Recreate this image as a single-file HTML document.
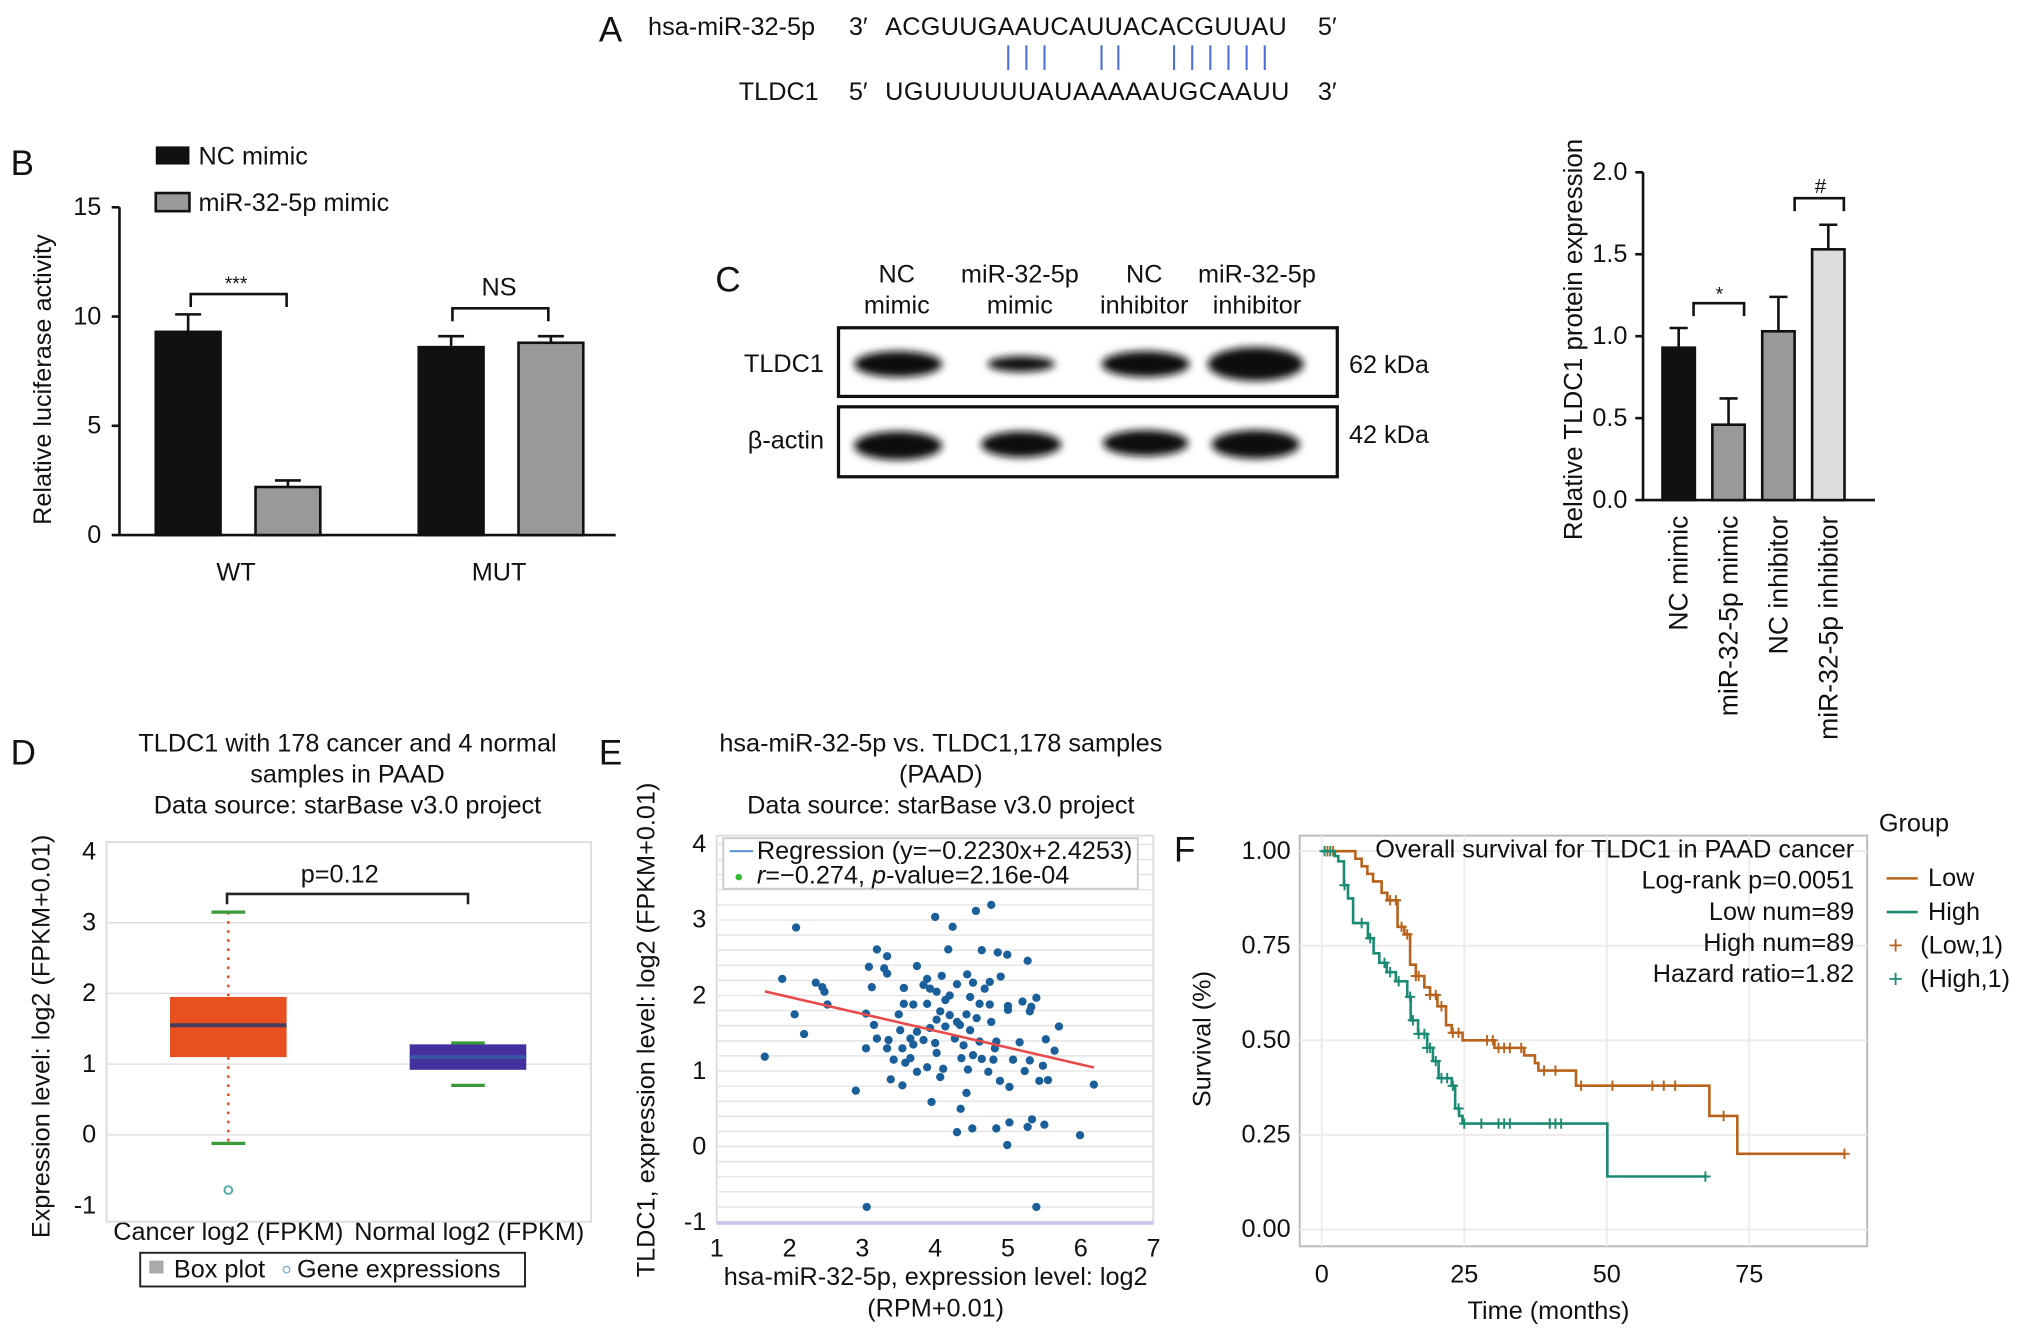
<!DOCTYPE html>
<html><head><meta charset="utf-8"><style>
html,body{margin:0;padding:0;background:#fff}
svg{display:block;font-family:"Liberation Sans",Arial,sans-serif}
</style></head><body>
<svg id="fig" width="2032" height="1337" viewBox="0 0 1568 1032" xmlns="http://www.w3.org/2000/svg">
<defs><filter id="blur" x="-30%" y="-60%" width="160%" height="220%"><feGaussianBlur stdDeviation="3"/></filter></defs>
<rect width="1568" height="1032" fill="#fff"/>

<!-- Panel A -->
<g font-size="19.5" fill="#111">
<text x="462" y="32" font-size="27">A</text>
<text x="500" y="27">hsa-miR-32-5p</text>
<text x="655" y="27">3′</text>
<text x="683" y="27" textLength="310">ACGUUGAAUCAUUACACGUUAU</text>
<text x="1017" y="27">5′</text>
<text x="570" y="77">TLDC1</text>
<text x="655" y="77">5′</text>
<text x="683" y="77" textLength="312">UGUUUUUUAUAAAAAUGCAAUU</text>
<text x="1017" y="77">3′</text>
<g stroke="#4a6fd6" stroke-width="1.6">
<line x1="778" y1="35" x2="778" y2="54"/><line x1="792" y1="35" x2="792" y2="54"/><line x1="806" y1="35" x2="806" y2="54"/>
<line x1="850" y1="35" x2="850" y2="54"/><line x1="863" y1="35" x2="863" y2="54"/>
<line x1="906" y1="35" x2="906" y2="54"/><line x1="920" y1="35" x2="920" y2="54"/><line x1="934" y1="35" x2="934" y2="54"/><line x1="948" y1="35" x2="948" y2="54"/><line x1="962" y1="35" x2="962" y2="54"/><line x1="976" y1="35" x2="976" y2="54"/>
</g>
</g>

<!-- Panel B -->
<g id="panelB" font-size="19.5" fill="#111">
<text x="8" y="135" font-size="27">B</text>
<rect x="120" y="113" width="26" height="14" fill="#111"/>
<text x="153" y="127">NC mimic</text>
<rect x="120" y="149" width="26" height="14" fill="#999" stroke="#111" stroke-width="2"/>
<text x="153" y="163">miR-32-5p mimic</text>
<text transform="translate(39,293) rotate(-90)" text-anchor="middle">Relative luciferase activity</text>
</g>

<!-- Panel C -->
<g font-size="19.5" fill="#111">
<text x="552" y="225" font-size="27">C</text>
<g text-anchor="middle">
<text x="692" y="218">NC</text><text x="692" y="242">mimic</text>
<text x="787" y="218">miR-32-5p</text><text x="787" y="242">mimic</text>
<text x="883" y="218">NC</text><text x="883" y="242">inhibitor</text>
<text x="970" y="218">miR-32-5p</text><text x="970" y="242">inhibitor</text>
</g>
<text x="574" y="287">TLDC1</text>
<text x="577" y="346">β-actin</text>
<text x="1041" y="288">62 kDa</text>
<text x="1041" y="342">42 kDa</text>
<rect x="647" y="253" width="385" height="53" fill="#fff" stroke="#111" stroke-width="2.5"/>
<rect x="647" y="314" width="385" height="54" fill="#fff" stroke="#111" stroke-width="2.5"/>
<g fill="#111" filter="url(#blur)">
<ellipse cx="693" cy="281" rx="34" ry="10"/><ellipse cx="788" cy="281" rx="26" ry="6"/><ellipse cx="884" cy="281" rx="34" ry="10"/><ellipse cx="969" cy="281" rx="37" ry="13"/>
<ellipse cx="693" cy="344" rx="34" ry="11"/><ellipse cx="788" cy="343" rx="31" ry="10"/><ellipse cx="884" cy="342" rx="33" ry="10"/><ellipse cx="969" cy="343" rx="34" ry="11"/>
</g>
<g id="panelC2"></g>
<text transform="translate(1221,262) rotate(-90)" text-anchor="middle" font-size="20">Relative TLDC1 protein expression</text>
</g>

<!-- Panel D -->
<g id="panelD" font-size="19.5" fill="#111">
<text x="8" y="590" font-size="27">D</text>
<g text-anchor="middle">
<text x="268" y="580">TLDC1 with 178 cancer and 4 normal</text>
<text x="268" y="604">samples in PAAD</text>
<text x="268" y="628">Data source: starBase v3.0 project</text>
</g>
<text transform="translate(38,800) rotate(-90)" text-anchor="middle">Expression level: log2 (FPKM+0.01)</text>
<text x="176" y="957" text-anchor="middle">Cancer log2 (FPKM)</text>
<text x="362" y="957" text-anchor="middle">Normal log2 (FPKM)</text>
<rect x="108" y="967" width="297" height="26" fill="#fff" stroke="#222" stroke-width="1.5"/>
<rect x="115" y="973" width="11" height="10" fill="#aaa"/>
<text x="134" y="986">Box plot</text>
<circle cx="221" cy="980" r="2.5" fill="none" stroke="#7ac"/>
<text x="229" y="986">Gene expressions</text>
</g>

<!-- Panel E -->
<g id="panelE" font-size="19.5" fill="#111">
<text x="462" y="590" font-size="27">E</text>
<g text-anchor="middle">
<text x="726" y="580">hsa-miR-32-5p vs. TLDC1,178 samples</text>
<text x="726" y="604">(PAAD)</text>
<text x="726" y="628">Data source: starBase v3.0 project</text>
</g>
<text transform="translate(505,795) rotate(-90)" text-anchor="middle">TLDC1, expression level: log2 (FPKM+0.01)</text>
<text x="722" y="992" text-anchor="middle">hsa-miR-32-5p, expression level: log2</text>
<text x="722" y="1016" text-anchor="middle">(RPM+0.01)</text>
</g>

<!-- Panel F -->
<g id="panelF" font-size="19.5" fill="#111">
<text x="906" y="665" font-size="27">F</text>
<text transform="translate(934,802) rotate(-90)" text-anchor="middle">Survival (%)</text>
<text x="1195" y="1018" text-anchor="middle">Time (months)</text>
<text x="1450" y="642">Group</text>
<line x1="1456" y1="678" x2="1480" y2="678" stroke="#b8621b" stroke-width="2"/>
<text x="1488" y="684">Low</text>
<line x1="1456" y1="704" x2="1480" y2="704" stroke="#1a8a73" stroke-width="2"/>
<text x="1488" y="710">High</text>
<text x="1463" y="736" fill="#b8621b" text-anchor="middle">+</text>
<text x="1482" y="736">(Low,1)</text>
<text x="1463" y="762" fill="#1a8a73" text-anchor="middle">+</text>
<text x="1482" y="762">(High,1)</text>
</g>
</svg>

<script>
// ---- Panel B data ----
const bCategories = ["WT","MUT"];
const bNcValues = [9.3, 8.6];
const bMirValues = [2.2, 8.8];
const bNcErr = [0.8, 0.5];
const bMirErr = [0.3, 0.3];
const bTicks = [0,5,10,15];
// ---- Panel C bar data ----
const cCategories = ["NC mimic","miR-32-5p mimic","NC inhibitor","miR-32-5p inhibitor"];
const cValues = [0.93, 0.46, 1.03, 1.53];
const cErr = [0.12, 0.16, 0.21, 0.15];
const cTicks = [0.0,0.5,1.0,1.5,2.0];
// ---- Panel D data ----
const dGroups = ["Cancer","Normal"];
const dQ1 = [1.1, 0.92];
const dMedian = [1.55, 1.1];
const dQ3 = [1.95, 1.28];
const dWhiskerLow = [-0.12, 0.7];
const dWhiskerHigh = [3.15, 1.3];
const dOutliers = [-0.78];
const dTicks = [-1,0,1,2,3,4];
// ---- Panel E data ----
const eX = [4.77,4.56,4.00,4.24,2.09,3.20,4.18,4.64,4.86,4.99,3.34,5.27,3.09,3.30,3.34,3.75,1.90,4.09,4.44,4.90,2.36,3.89,3.84,4.30,4.52,4.75,2.45,2.48,3.13,3.57,3.93,4.02,4.20,4.48,4.68,5.39,5.20,2.52,3.57,3.70,3.89,4.14,4.61,4.75,5.00,5.32,2.07,3.05,3.50,4.07,4.20,4.43,5.00,5.30,4.02,4.30,4.57,4.77,3.16,3.52,3.75,3.93,4.14,4.34,4.48,5.70,2.20,3.20,3.36,3.66,3.84,4.27,4.61,4.84,5.16,5.52,3.05,3.34,3.55,3.70,4.00,4.39,4.82,5.64,1.66,3.43,3.66,4.02,4.36,4.52,4.64,4.80,5.07,5.30,3.59,3.89,4.11,4.45,4.73,5.23,5.48,3.75,4.07,4.89,3.39,3.55,5.02,5.43,5.55,6.18,2.91,4.43,3.95,4.35,4.30,4.51,4.84,5.02,5.33,5.27,5.50,4.99,5.99,3.06,5.39];
const eY = [3.20,3.12,3.04,2.91,2.90,2.61,2.61,2.60,2.57,2.54,2.52,2.46,2.38,2.36,2.29,2.39,2.22,2.26,2.28,2.25,2.17,2.22,2.14,2.15,2.17,2.18,2.11,2.05,2.11,2.10,2.09,2.05,2.00,1.98,2.09,1.97,1.92,1.88,1.89,1.88,1.89,1.94,1.89,1.88,1.86,1.85,1.75,1.76,1.75,1.79,1.74,1.75,1.81,1.79,1.68,1.65,1.70,1.65,1.61,1.54,1.52,1.57,1.59,1.61,1.54,1.59,1.49,1.43,1.41,1.43,1.41,1.43,1.39,1.39,1.38,1.42,1.30,1.30,1.30,1.35,1.37,1.34,1.30,1.27,1.19,1.15,1.17,1.24,1.17,1.21,1.16,1.15,1.15,1.14,1.11,1.05,1.03,1.02,0.99,1.00,1.07,0.99,0.92,0.87,0.89,0.81,0.79,0.87,0.88,0.82,0.74,0.71,0.59,0.50,0.19,0.24,0.24,0.32,0.36,0.26,0.29,0.02,0.15,-0.80,-0.80];
const eSlope = -0.2230;
const eIntercept = 2.4253;
const eXTicks = [1,2,3,4,5,6,7];
const eYTicks = [-1,0,1,2,3,4];
// ---- Panel F data ----
const lowTime = [0,5.9,7,8,9,10.5,11.5,13.3,14.5,15.5,16.5,18,19,20.3,21.8,22.8,24.7,30.3,35.5,37.4,38,44.6,68,72.9];
const lowSurv = [1,0.98,0.96,0.94,0.92,0.89,0.87,0.80,0.78,0.70,0.67,0.64,0.62,0.59,0.54,0.52,0.50,0.48,0.46,0.44,0.42,0.38,0.30,0.20];
const lowEnd = 91.7;
const lowCensor = [1,2,12,13,14,15,16.5,17,19,20,21,23,24,29,30,31,32,33,35,39,41,45.5,51,58,60,62,70.5,91.7];
const highTime = [0,2.3,2.9,3.9,4.6,5.5,8.1,9.1,10.1,11.4,13,15,15.6,16.9,18.5,19.5,20.5,22.8,23.4,24.1,24.7,50.1];
const highSurv = [1,0.987,0.973,0.91,0.875,0.81,0.77,0.73,0.705,0.68,0.656,0.615,0.553,0.517,0.48,0.445,0.40,0.38,0.32,0.30,0.28,0.14];
const highEnd = 67.3;
const highCensor = [0.5,1.5,4,7,8.5,11,12,13.5,15.5,16,17,18,18.5,19,20,21,22,23,24,25,28,31,32,33,40,41,42,67.3];
const fXTicks = [0,25,50,75];
const fYTicks = [0,0.25,0.5,0.75,1];

const NS="http://www.w3.org/2000/svg";
function mk(parent, tag, attrs, text){const e=document.createElementNS(NS,tag);for(const k in attrs)e.setAttribute(k,attrs[k]);if(text!==undefined)e.textContent=text;parent.appendChild(e);return e;}

// ===== Panel B =====
(function(){
const g=document.getElementById('panelB');
const yB=v=>413-v*(253/15);
let ax=mk(g,'path',{d:'M92 160 V413 H475',fill:'none',stroke:'#111','stroke-width':2});


bTicks.forEach(t=>{
 let l=mk(g,'line',{x1:86,x2:92,y1:yB(t),y2:yB(t),stroke:'#111','stroke-width':2});
 
 
 let tx=mk(g,'text',{x:78,y:yB(t)+6,'text-anchor':'end'},String(t));
 
 
});
const groupX=[120,323];
bCategories.forEach((c,i)=>{
 const x0=groupX[i];
 const bars=[[x0,bNcValues[i],bNcErr[i],'#111'],[x0+77,bMirValues[i],bMirErr[i],'#999']];
 bars.forEach((b,j)=>{
  let r=mk(g,'rect',{x:b[0],y:yB(b[1]),width:50,height:413-yB(b[1]),fill:b[3],stroke:'#111','stroke-width':2});
  
  
  const cx=b[0]+25;
  let e=mk(g,'path',{d:`M${cx} ${yB(b[1])} V${yB(b[1]+b[2])} M${cx-10} ${yB(b[1]+b[2])} H${cx+10}`,stroke:'#111','stroke-width':2,fill:'none'});
  
  
 });
 let lt=mk(g,'text',{x:x0+62,y:448,'text-anchor':'middle'},c);
 
 
});
let s1=mk(g,'path',{d:'M147 237 V227 H221 V237',fill:'none',stroke:'#111','stroke-width':2});


let s1t=mk(g,'text',{x:182,y:224,'text-anchor':'middle','font-size':15},'***');


let s2=mk(g,'path',{d:'M349 248 V238 H423 V248',fill:'none',stroke:'#111','stroke-width':2});


let s2t=mk(g,'text',{x:385,y:228,'text-anchor':'middle'},'NS');


})();

// ===== Panel C bar chart =====
(function(){
const g=document.getElementById('panelC2');
const yC=v=>386-v*(253/2);
let ax=mk(g,'path',{d:'M1268 133 V386 H1447',fill:'none',stroke:'#111','stroke-width':2});


cTicks.forEach(t=>{
 let l=mk(g,'line',{x1:1262,x2:1268,y1:yC(t),y2:yC(t),stroke:'#111','stroke-width':2});
 
 
 let tx=mk(g,'text',{x:1256,y:yC(t)+6,'text-anchor':'end','font-size':19.5},t.toFixed(1));
 
 
});
const fills=['#111','#999','#999','#ddd'];
cCategories.forEach((c,i)=>{
 const x=1295+i*38.5-12;
 let r=mk(g,'rect',{x:x,y:yC(cValues[i]),width:25,height:386-yC(cValues[i]),fill:fills[i],stroke:'#111','stroke-width':2});
 
 
 const cx=x+12.5, top=yC(cValues[i]+cErr[i]);
 let e=mk(g,'path',{d:`M${cx} ${yC(cValues[i])} V${top} M${cx-7} ${top} H${cx+7}`,stroke:'#111','stroke-width':2,fill:'none'});
 
 
 let tx=mk(g,'text',{transform:`translate(${cx+7},398) rotate(-90)`,'text-anchor':'end','font-size':20.5},c);
 
 
});
let s1=mk(g,'path',{d:'M1307 244 V234 H1346 V244',fill:'none',stroke:'#111','stroke-width':2});


let s1t=mk(g,'text',{x:1327,y:232,'text-anchor':'middle','font-size':15},'*');


let s2=mk(g,'path',{d:'M1385 163 V153 H1423 V163',fill:'none',stroke:'#111','stroke-width':2});


let s2t=mk(g,'text',{x:1405,y:149,'text-anchor':'middle','font-size':16},'#');


})();

// ===== Panel D =====
(function(){
const g=document.getElementById('panelD');
const yD=v=>876-v*54.6;
let fr=mk(g,'rect',{x:82,y:650,width:374,height:293,fill:'#fff',stroke:'#ddd','stroke-width':1.5});


dTicks.forEach(t=>{
 if(t>-1&&t<4){let l=mk(g,'line',{x1:82,x2:456,y1:yD(t),y2:yD(t),stroke:'#ddd','stroke-width':1});
 
 }
 let tx=mk(g,'text',{x:74,y:yD(t)+6,'text-anchor':'end'},String(t));
 
 
});
const cxs=[176,361], cols=['#e8501f','#4530a0'];
dGroups.forEach((gr,i)=>{
 const cx=cxs[i];
 if(i===0){
  let w=mk(g,'line',{x1:cx,x2:cx,y1:yD(dWhiskerHigh[i]),y2:yD(dWhiskerLow[i]),stroke:'#e8501f','stroke-width':2,'stroke-dasharray':'2 5'});
  
  
 }
 let b=mk(g,'rect',{x:cx-45,y:yD(dQ3[i]),width:90,height:yD(dQ1[i])-yD(dQ3[i]),fill:cols[i]});
 
 
 let m=mk(g,'line',{x1:cx-45,x2:cx+45,y1:yD(dMedian[i]),y2:yD(dMedian[i]),stroke:i===0?'#4a3a5a':'#3a55a0','stroke-width':3});
 
 
 [dWhiskerHigh[i],dWhiskerLow[i]].forEach(v=>{
  let c=mk(g,'line',{x1:cx-13,x2:cx+13,y1:yD(v),y2:yD(v),stroke:'#3a9a3a','stroke-width':2.5});
  
  
 });
});
dOutliers.forEach(v=>{
 let o=mk(g,'circle',{cx:176,cy:yD(v),r:3,fill:'none',stroke:'#5aa','stroke-width':1.5});
 
 
});
let br=mk(g,'path',{d:'M175 698 V690 H361 V698',fill:'none',stroke:'#222','stroke-width':2});


let pt=mk(g,'text',{x:262,y:681,'text-anchor':'middle'},'p=0.12');


})();

// ===== Panel E =====
(function(){
const g=document.getElementById('panelE');
const xE=v=>553+(v-1)*56.2, yE=v=>885-v*58.3;
let fr=mk(g,'rect',{x:553,y:645,width:337,height:299,fill:'#fff',stroke:'#ddd','stroke-width':1.5});


for(let v=-1;v<=4.01;v+=0.2){
 let l=mk(g,'line',{x1:553,x2:890,y1:yE(v),y2:yE(v),stroke:'#e2e2e2','stroke-width':1});
 
 
}
let bl=mk(g,'line',{x1:553,x2:890,y1:944,y2:944,stroke:'#c8c8f0','stroke-width':3});


eXTicks.forEach(t=>{
 let tx=mk(g,'text',{x:xE(t),y:970,'text-anchor':'middle'},String(t));
 
 
});
eYTicks.forEach(t=>{
 let tx=mk(g,'text',{x:545,y:yE(t)+6,'text-anchor':'end'},String(t));
 
 
});
eX.forEach((x,i)=>{
 let c=mk(g,'circle',{cx:xE(x),cy:yE(eY[i]),r:3.2,fill:'#1a5f9a'});
 
 
});
const x1=Math.min(...eX), x2=Math.max(...eX);
let rl=mk(g,'line',{x1:xE(x1),y1:yE(eSlope*x1+eIntercept),x2:xE(x2),y2:yE(eSlope*x2+eIntercept),stroke:'#e84a4a','stroke-width':2});


let lg=mk(g,'rect',{x:558,y:647,width:320,height:39,fill:'#fff',stroke:'#ccc','stroke-width':1.5});


let ll=mk(g,'line',{x1:563,x2:581,y1:657,y2:657,stroke:'#4a8ad0','stroke-width':1.5});


let lt=mk(g,'text',{x:584,y:663},'Regression (y=−0.2230x+2.4253)');


let ld=mk(g,'circle',{cx:570,cy:677,r:2.5,fill:'#3b3'});


const t2=mk(g,'text',{x:584,y:682});


t2.innerHTML='<tspan font-style="italic">r</tspan>=−0.274, <tspan font-style="italic">p</tspan>-value=2.16e-04';
})();

// ===== Panel F =====
(function(){
const g=document.getElementById('panelF');
const xF=v=>1020+v*4.4, yF=v=>949-v*292;
let fr=mk(g,'rect',{x:1003,y:645,width:438,height:317,fill:'#fff',stroke:'#bbb','stroke-width':1.5});


fXTicks.forEach(t=>{
 let l=mk(g,'line',{x1:xF(t),x2:xF(t),y1:645,y2:962,stroke:'#ececec','stroke-width':1.5});
 
 
 let tx=mk(g,'text',{x:xF(t),y:990,'text-anchor':'middle'},String(t));
 
 
});
fYTicks.forEach(t=>{
 let l=mk(g,'line',{x1:1003,x2:1441,y1:yF(t),y2:yF(t),stroke:'#ececec','stroke-width':1.5});
 
 
 let tx=mk(g,'text',{x:996,y:yF(t)+6,'text-anchor':'end'},t.toFixed(2));
 
 
});
function stepPath(ts,ss,end){let d=`M${xF(ts[0])} ${yF(ss[0])}`;for(let i=1;i<ts.length;i++){d+=` H${xF(ts[i])} V${yF(ss[i])}`;}d+=` H${xF(end)}`;return d;}
function survAt(ts,ss,t){let s=ss[0];for(let i=0;i<ts.length;i++){if(ts[i]<=t)s=ss[i];}return s;}
[[lowTime,lowSurv,lowEnd,lowCensor,'#b8621b','low'],[highTime,highSurv,highEnd,highCensor,'#1a8a73','high']].forEach(a=>{
 let p=mk(g,'path',{d:stepPath(a[0],a[1],a[2]),fill:'none',stroke:a[4],'stroke-width':2});
 
 
 a[3].forEach(t=>{
  const x=xF(t), y=yF(survAt(a[0],a[1],t));
  let c=mk(g,'path',{d:`M${x-4} ${y} H${x+4} M${x} ${y-4} V${y+4}`,stroke:a[4],'stroke-width':1.5});
  
  
 });
});
const lines=['Overall survival for TLDC1 in PAAD cancer','Log-rank p=0.0051','Low num=89','High num=89','Hazard ratio=1.82'];
lines.forEach((s,i)=>{
 let tx=mk(g,'text',{x:1431,y:662+i*24,'text-anchor':'end'},s);
 
 
});
})();
</script>
</body></html>
